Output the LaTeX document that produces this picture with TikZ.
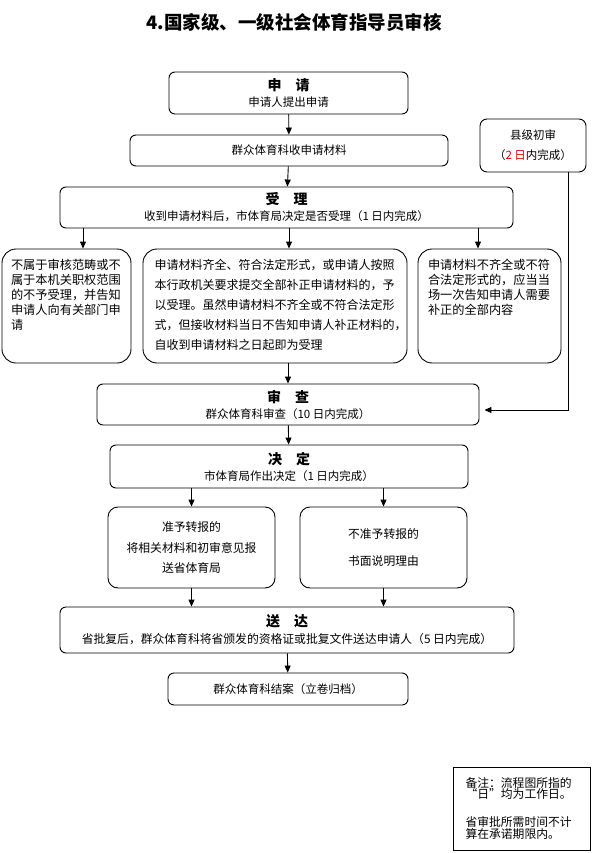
\documentclass[tikz,border=0pt]{standalone}
\usepackage{fontspec}
\setmainfont{Noto Sans CJK SC}
\usetikzlibrary{arrows.meta}
\begin{document}
\begin{tikzpicture}[x=1pt, y=-1pt,
    box/.style={draw, rounded corners=6pt, line width=0.9pt, align=center, inner sep=0pt, font=\fontsize{11.5}{16}\selectfont},
    tallbox/.style={draw, rounded corners=14pt, line width=0.9pt, inner sep=0pt, font=\fontsize{12.2}{15}\selectfont},
    arr/.style={-{Triangle[length=7pt,width=6pt]}, line width=0.9pt}
]
\useasboundingbox (0,0) rectangle (591,853);

\node[font=\fontsize{18.5}{22}\selectfont\bfseries] (title) at (294,22) {4.国家级、一级社会体育指导员审核};

\node[box, minimum width=239, minimum height=42] (shenqing) at (288.5,93) {{\fontsize{14}{16}\selectfont\bfseries 申\hspace{1em}请}\\申请人提出申请};
\node[box, minimum width=318, minimum height=31] (shou) at (289,150.5) {群众体育科收申请材料};
\node[box, minimum width=453, minimum height=41] (shouli) at (286.5,207.5) {{\fontsize{14}{18}\selectfont\bfseries 受\hspace{1em}理}\\收到申请材料后，市体育局决定是否受理（1 日内完成）};
\node[box, minimum width=106, minimum height=53, rounded corners=7pt] (xianji) at (533,145.5) {县级初审\\[4pt]（\textcolor{red!85!black}{2 日}内完成）};

\node[tallbox, minimum width=129, minimum height=114] (bushu) at (66.5,306) {\parbox[c][94pt][t]{111pt}{不属于审核范畴或不\\属于本机关职权范围\\的不予受理，并告知\\申请人向有关部门申\\请}};
\node[tallbox, minimum width=264, minimum height=114, font=\fontsize{12}{20}\selectfont] (qiquan) at (275,306) {\parbox[c][94pt][t]{241pt}{申请材料齐全、符合法定形式，或申请人按照\\本行政机关要求提交全部补正申请材料的，予\\以受理。虽然申请材料不齐全或不符合法定形\\式，但接收材料当日不告知申请人补正材料的，\\自收到申请材料之日起即为受理}};
\node[tallbox, minimum width=143, minimum height=114] (buqi) at (489.5,306) {\parbox[c][94pt][t]{123pt}{申请材料不齐全或不符\\合法定形式的，应当当\\场一次告知申请人需要\\补正的全部内容}};

\node[box, minimum width=382, minimum height=41] (shencha) at (288,404.5) {{\fontsize{14}{16}\selectfont\bfseries 审\hspace{1em}查}\\群众体育科审查（10 日内完成）};
\node[box, minimum width=358, minimum height=43] (jueding) at (289,466.5) {{\fontsize{14}{16}\selectfont\bfseries 决\hspace{1em}定}\\市体育局作出决定（1 日内完成）};

\node[box, minimum width=167, minimum height=81, rounded corners=10pt, font=\fontsize{11.8}{20.5}\selectfont] (zhunyu) at (191.5,547.5) {准予转报的\\将相关材料和初审意见报\\送省体育局};
\node[box, minimum width=167, minimum height=81, rounded corners=10pt, font=\fontsize{11.8}{27}\selectfont] (buzhun) at (383.5,547.5) {不准予转报的\\书面说明理由};

\node[box, minimum width=454, minimum height=46, font=\fontsize{11.8}{17}\selectfont] (songda) at (287,630) {{\fontsize{14}{17}\selectfont\bfseries 送\hspace{1em}达}\\省批复后，群众体育科将省颁发的资格证或批复文件送达申请人（5 日内完成）};
\node[box, minimum width=240, minimum height=32] (jiean) at (288,689) {群众体育科结案（立卷归档）};

\node[draw, line width=0.9pt, minimum width=137, minimum height=83, inner sep=0pt, font=\fontsize{11.8}{11.5}\selectfont] (beizhu) at (521.5,808.5) {\parbox{112pt}{备注：流程图所指的\\“日”均为工作日。\\[16.5pt]省审批所需时间不计\\算在承诺期限内。}};

\draw[arr] (shenqing) -- (shou);
\draw[arr] (shou) -- (shouli);
\draw[arr] ([xshift=16.5pt]bushu.north |- shouli.south) -- ([xshift=16.5pt]bushu.north);
\draw[arr] ([xshift=14pt]qiquan.north |- shouli.south) -- ([xshift=14pt]qiquan.north);
\draw[arr] ([xshift=-11.5pt]buqi.north |- shouli.south) -- ([xshift=-11.5pt]buqi.north);
\draw[arr] ([xshift=13pt]qiquan.south) -- ([xshift=13pt]qiquan.south |- shencha.north);
\draw[arr] ([xshift=35pt]xianji.south) |- ([xshift=5pt,yshift=-5.5pt]shencha.east);
\draw[arr] (shencha) -- (jueding);
\draw[arr] (jueding.south -| zhunyu.north) -- (zhunyu);
\draw[arr] (jueding.south -| buzhun.north) -- (buzhun);
\draw[arr] (zhunyu) -- (zhunyu |- songda.north);
\draw[arr] (buzhun) -- (buzhun |- songda.north);
\draw[arr] (songda) -- (jiean);
\end{tikzpicture}
\end{document}
